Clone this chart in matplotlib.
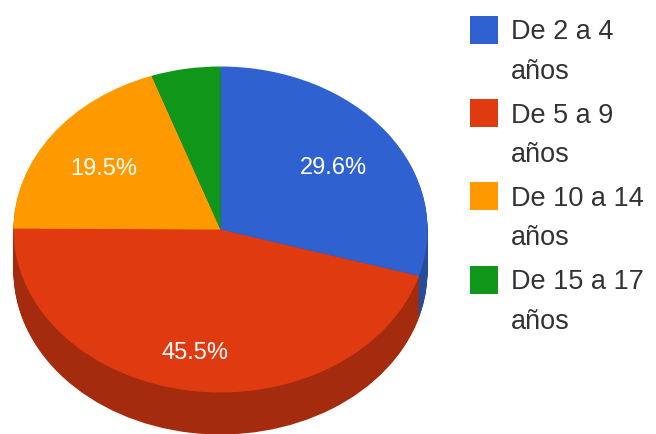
import matplotlib
matplotlib.use("Agg")
import matplotlib.pyplot as plt
from matplotlib.patches import Patch, Rectangle
from matplotlib.legend_handler import HandlerPatch

categories = ["De 2 a 4\naños", "De 5 a 9\naños", "De 10 a 14\naños", "De 15 a 17\naños"]
values = [29.6, 45.5, 19.5, 5.4]
pct_labels = ["29.6%", "45.5%", "19.5%", ""]
colors = ["#2F62D0", "#DF3A10", "#FF9900", "#109618"]
side_colors = ["#264D99", "#A52B0E", "#BF7300", "#0C7112"]

W, H = 656, 435
CX, CY, RX, RY, DEPTH = 220.5, 230.5, 207, 163, 42

plt.rcParams["font.family"] = ["Liberation Sans", "DejaVu Sans"]
fig = plt.figure(figsize=(W / 100, H / 100), dpi=100)
ax = fig.add_axes([0, 0, 1, 1])

# extruded side: stacked darker pies
for d in range(DEPTH, 0, -1):
    ax.pie(values, colors=side_colors, startangle=90, counterclock=False,
           center=(0, -d / RY), radius=1, frame=True)

wedges, _ = ax.pie(values, colors=colors, startangle=90, counterclock=False,
                   center=(0, 0), radius=1, frame=True)

ax.set_aspect("auto")
ax.set_xlim(-CX / RX, (W - CX) / RX)
ax.set_ylim(-(H - CY) / RY, CY / RY)
ax.axis("off")

label_pos = [(0.545, 0.385), (-0.125, -0.75), (-0.565, 0.38)]
for (x, y), t in zip(label_pos, pct_labels):
    ax.text(x, y, t, color="white", fontsize=17, ha="center", va="center")


def raised_swatch(legend, orig_handle, xdescent, ydescent, width, height, fontsize):
    # swatch lines up with the first line of the two-line label
    return Rectangle((-xdescent, -ydescent + 14.8), width, 20.2)


handles = [Patch(facecolor=c, edgecolor="none") for c in colors]
leg = ax.legend(handles, categories, loc="upper left", bbox_to_anchor=(470 / W, 1 - 19.5 / H),
                frameon=False, fontsize=19.5, handlelength=1.03, handleheight=1.03,
                handletextpad=0.48, labelspacing=0.66, borderpad=0, borderaxespad=0,
                labelcolor="#333333",
                handler_map={Patch: HandlerPatch(patch_func=raised_swatch)})
for t in leg.get_texts():
    t.set_linespacing(1.67)

fig.savefig("out.png", dpi=100)
